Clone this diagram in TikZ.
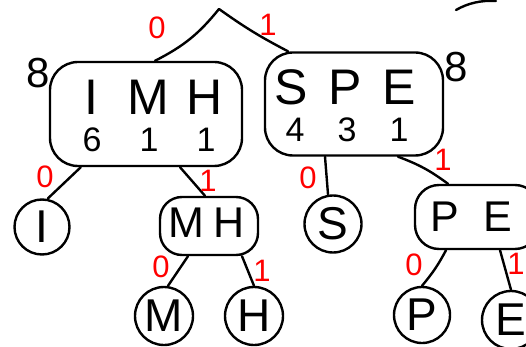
\documentclass[tikz,border=0pt]{standalone}
\usepackage{fontspec}
\setmainfont{Liberation Sans}
\begin{document}
\begin{tikzpicture}[x=1pt,y=-1pt,line width=2.4pt,line cap=round,line join=round,
  grp/.style={draw,rounded corners=28pt,inner sep=0pt},
  leaf/.style={draw,circle,inner sep=0pt,font=\fontsize{46}{46}\selectfont},
  big/.style={inner sep=0pt,font=\fontsize{50}{50}\selectfont},
  mid/.style={inner sep=0pt,font=\fontsize{43}{43}\selectfont},
  num/.style={inner sep=0pt,font=\fontsize{34}{34}\selectfont},
  cnt/.style={inner sep=0pt,font=\fontsize{42}{42}\selectfont},
  bit/.style={inner sep=0pt,text=red,font=\fontsize{31}{31}\selectfont},
  conn/.style={draw}]
\useasboundingbox (0,0) rectangle (526,347);
\clip (0,0) rectangle (526,347);
% root
\coordinate (root) at (219,9);
% group boxes
\node[grp,minimum width=192pt,minimum height=104pt] (imh) at (146,114) {};
\node[grp,minimum width=178pt,minimum height=103pt] (spe) at (354,104) {};
\node[grp,rounded corners=22pt,minimum width=98pt,minimum height=58pt] (mh) at (209,226) {};
\node[grp,rounded corners=24pt,minimum width=124pt,minimum height=64pt] (pe) at (477,217) {};
% group texts
\node[big] (imhL) at (148,97) {\makebox[57pt]{I}\makebox[57pt]{M}\makebox[57pt]{H}};
\node[num] (imhN) at (149,140) {\makebox[57pt]{6}\makebox[57pt]{1}\makebox[57pt]{1}};
\node[big] (speL) at (345,87) {\makebox[54pt]{S}\makebox[54pt]{P}\makebox[54pt]{E}};
\node[num] (speN) at (347,130) {\makebox[52pt]{4}\makebox[52pt]{3}\makebox[52pt]{1}};
\node[mid] (mhL) at (208,223) {\makebox[43pt]{M}\makebox[43pt]{H}};
\node[mid] (peL) at (471,217) {\makebox[53pt]{P}\makebox[53pt]{E}};
% counts
\node[cnt] (c1) at (38,73) {8};
\node[cnt] (c2) at (456,67) {8};
% leaves
\node[leaf,minimum size=55pt] (I) at (42,227) {I};
\node[leaf,minimum size=58pt] (M) at (164,316) {M};
\node[leaf,minimum size=58pt] (H) at (254,316) {H};
\node[leaf,minimum size=57pt] (S) at (333,224) {S};
\node[leaf,minimum size=56pt] (P) at (422,315) {P};
\node[leaf,minimum size=58pt] (E) at (511,320) {E};
% connectors
\draw[conn] (root) to[bend left=12] ([xshift=9pt]imh.north);
\draw[conn] (root) to[bend right=4] ([xshift=-66pt]spe.north);
\draw[conn] ([xshift=32pt]imh.south west) -- ([xshift=6pt]I.north);
\draw[conn] ([xshift=34pt]imh.south) -- ([xshift=-4pt]mh.north);
\draw[conn] ([xshift=-21pt]mh.south) -- ([xshift=4pt]M.north);
\draw[conn] ([xshift=33pt]mh.south) -- (H.north);
\draw[conn] ([xshift=-29pt]spe.south) -- ([xshift=-5pt]S.north);
\draw[conn] ([xshift=44pt]spe.south) to[bend left=8] ([xshift=-29pt]pe.north);
\draw[conn] ([xshift=-31pt]pe.south) to[bend left=6] (P.north);
\draw[conn] ([xshift=23pt]pe.south) -- (E.north);
% bit labels
\node[bit] (b1) at (157,28) {0};
\node[bit] (b2) at (268,25) {1};
\node[bit] (b3) at (45,177) {0};
\node[bit] (b4) at (208,181) {1};
\node[bit] (b5) at (161,267) {0};
\node[bit] (b6) at (262,271) {1};
\node[bit] (b7) at (308,178) {0};
\node[bit] (b8) at (443,160) {1};
\node[bit] (b9) at (414,265) {0};
\node[bit] (b10) at (516,264) {1};
% stray stroke top right
\draw (456,10) .. controls (468,3) and (482,0) .. (496,1);
\end{tikzpicture}
\end{document}
